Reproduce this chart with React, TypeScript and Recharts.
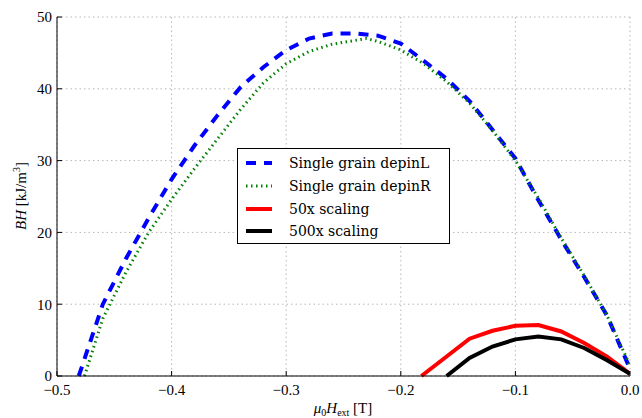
import React from "react";
import {
  CartesianGrid,
  Line,
  LineChart,
  XAxis,
  YAxis,
} from "recharts";

// field values (T) and energy product (kJ/m^3)
const fieldL = [-0.481, -0.46, -0.44, -0.42, -0.4, -0.38, -0.36, -0.34, -0.32, -0.3, -0.28, -0.26, -0.24, -0.22, -0.2, -0.18, -0.16, -0.14, -0.12, -0.1, -0.08, -0.06, -0.04, -0.02, 0.0];
const bhL = [0, 10, 16.3, 22, 27.4, 32.1, 36.3, 40.2, 43, 45.4, 47, 47.7, 47.7, 47.4, 46.3, 43.9, 41.4, 38.3, 34.3, 30.3, 24.5, 19, 13.8, 8.4, 1];

const fieldR = [-0.476, -0.46, -0.44, -0.42, -0.4, -0.38, -0.36, -0.34, -0.32, -0.3, -0.28, -0.26, -0.23, -0.22, -0.2, -0.18, -0.16, -0.14, -0.12, -0.1, -0.08, -0.06, -0.04, -0.02, 0.0];
const bhR = [0, 8, 14.4, 20, 24.6, 28.9, 33, 37.1, 40.8, 43.5, 45.2, 46.2, 47, 46.6, 45.4, 43.5, 41, 38, 34.2, 30, 24.8, 19.2, 14, 8.4, 1.5];

const field50 = [-0.182, -0.14, -0.12, -0.1, -0.08, -0.06, -0.04, -0.02, 0.0];
const bh50 = [0, 5.2, 6.3, 7.0, 7.1, 6.2, 4.6, 2.7, 0.3];

const field500 = [-0.16, -0.14, -0.12, -0.1, -0.08, -0.06, -0.04, -0.02, 0.0];
const bh500 = [0, 2.5, 4.1, 5.1, 5.5, 5.1, 3.9, 2.2, 0.3];

const xTicks = [-0.5, -0.4, -0.3, -0.2, -0.1, 0.0];
const yTicks = [0, 10, 20, 30, 40, 50];

const series = [
  { name: "Single grain depinL", x: fieldL, y: bhL, color: "#0000ff", width: 4, dash: "10 8" },
  { name: "Single grain depinR", x: fieldR, y: bhR, color: "#008000", width: 3, dash: "1.5 3.5" },
  { name: "50x scaling", x: field50, y: bh50, color: "#ff0000", width: 4, dash: undefined },
  { name: "500x scaling", x: field500, y: bh500, color: "#000000", width: 4, dash: undefined },
];

const SERIF = "'Liberation Serif', 'Times New Roman', serif";
const tickFont = { fontFamily: SERIF, fontSize: 15, fill: "#000", style: { fontFamily: SERIF } };
const fmtX = (v: number) => (v === 0 ? "0.0" : "\u2212" + Math.abs(v).toFixed(1));

export default function App() {
  return (
    <div style={{ position: "absolute", left: 0, top: 0, width: 642, height: 418, background: "#fff", fontFamily: SERIF }}>
      <LineChart width={642} height={418} margin={{ top: 17, right: 12, left: 0, bottom: 0 }} style={{ fontFamily: SERIF }}>
        <CartesianGrid stroke="#b8b8b8" strokeDasharray="1.5 3" />
        <XAxis
          dataKey="x"
          type="number"
          domain={[-0.5, 0]}
          ticks={xTicks}
          tickFormatter={fmtX}
          height={42}
          tickSize={-5}
          tickMargin={13}
          stroke="#000"
          tick={tickFont}
          allowDataOverflow
          label={{
            content: () => (
              <text x={343} y={413} textAnchor="middle" style={{ fontFamily: SERIF }} fontSize={15} fill="#000">
                <tspan fontStyle="italic">μ</tspan>
                <tspan fontSize={10} dy={3}>0</tspan>
                <tspan fontStyle="italic" dy={-3}>H</tspan>
                <tspan fontSize={10} dy={3}>ext</tspan>
                <tspan dy={-3}> [T]</tspan>
              </text>
            ),
          }}
        />
        <XAxis
          xAxisId="top"
          orientation="top"
          type="number"
          domain={[-0.5, 0]}
          ticks={xTicks}
          height={0}
          tickSize={-5}
          tick={false}
          stroke="#000"
          allowDataOverflow
        />
        <YAxis
          type="number"
          domain={[0, 50]}
          ticks={yTicks}
          width={57}
          tickSize={-5}
          tickMargin={10}
          stroke="#000"
          tick={tickFont}
          label={{
            content: () => (
              <text
                x={26}
                y={196}
                transform="rotate(-90, 26, 196)"
                textAnchor="middle"
                style={{ fontFamily: SERIF }}
                fontSize={15}
                fill="#000"
              >
                <tspan fontStyle="italic">BH</tspan>
                <tspan> [kJ/m</tspan>
                <tspan fontSize={10} dy={-6}>3</tspan>
                <tspan dy={6}>]</tspan>
              </text>
            ),
          }}
        />
        <YAxis
          yAxisId="right"
          orientation="right"
          type="number"
          domain={[0, 50]}
          ticks={yTicks}
          width={0}
          tickSize={-5}
          tick={false}
          stroke="#000"
        />
        {series.map((s) => (
          <Line
            key={s.name}
            data={s.x.map((x, i) => ({ x, y: s.y[i] }))}
            dataKey="y"
            type="linear"
            stroke={s.color}
            strokeWidth={s.width}
            strokeDasharray={s.dash}
            dot={false}
            activeDot={false}
            isAnimationActive={false}
          />
        ))}
      </LineChart>
      <div
        style={{
          position: "absolute",
          left: 237,
          top: 148,
          width: 213,
          height: 96,
          boxSizing: "border-box",
          border: "1.5px solid #000",
          background: "#fff",
          fontFamily: "'DejaVu Serif', serif",
          fontSize: 14,
        }}
      >
        {series.map((s, i) => (
          <div key={s.name} style={{ position: "absolute", left: 8, top: 3 + i * 22.8, height: 22, display: "flex", alignItems: "center", whiteSpace: "nowrap" }}>
            <svg width={26} height={10} style={{ display: "block" }}>
              <line x1={0} y1={5} x2={26} y2={5} stroke={s.color} strokeWidth={s.width} strokeDasharray={s.dash} />
            </svg>
            <span style={{ marginLeft: 17 }}>{s.name}</span>
          </div>
        ))}
      </div>
    </div>
  );
}
